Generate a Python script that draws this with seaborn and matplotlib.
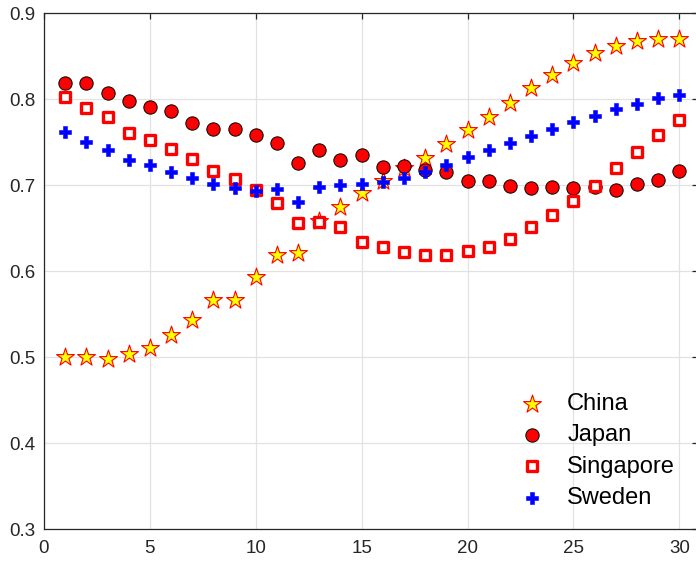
import numpy as np
import pandas as pd
import matplotlib
matplotlib.use("Agg")
import matplotlib.pyplot as plt
import seaborn as sns

x = list(range(1, 31))
china = [0.500, 0.500, 0.498, 0.504, 0.511, 0.526, 0.543, 0.567, 0.567, 0.593,
         0.619, 0.621, 0.659, 0.675, 0.691, 0.705, 0.720, 0.732, 0.748, 0.764,
         0.779, 0.796, 0.813, 0.828, 0.842, 0.854, 0.862, 0.868, 0.870, 0.870]
japan = [0.819, 0.819, 0.807, 0.798, 0.791, 0.786, 0.773, 0.766, 0.766, 0.759,
         0.749, 0.726, 0.741, 0.729, 0.735, 0.721, 0.722, 0.718, 0.716, 0.705,
         0.705, 0.699, 0.697, 0.698, 0.697, 0.698, 0.694, 0.701, 0.706, 0.717]
singapore = [0.803, 0.790, 0.779, 0.761, 0.753, 0.742, 0.731, 0.717, 0.707, 0.694,
             0.679, 0.656, 0.657, 0.652, 0.634, 0.628, 0.623, 0.619, 0.619, 0.624,
             0.628, 0.638, 0.651, 0.665, 0.682, 0.699, 0.720, 0.739, 0.758, 0.776]
sweden = [0.762, 0.750, 0.741, 0.729, 0.724, 0.716, 0.709, 0.701, 0.697, 0.693,
          0.696, 0.680, 0.698, 0.700, 0.701, 0.704, 0.709, 0.716, 0.724, 0.733,
          0.741, 0.749, 0.757, 0.765, 0.774, 0.781, 0.789, 0.795, 0.801, 0.805]
labels = ["China", "Japan", "Singapore", "Sweden"]
xticks = [0, 5, 10, 15, 20, 25, 30]
yticks = [0.3, 0.4, 0.5, 0.6, 0.7, 0.8, 0.9]

sns.set_style("white")
plt.rcParams['font.family'] = ['Liberation Sans', 'DejaVu Sans']

fig = plt.figure(figsize=(6.96, 5.61), dpi=100)
ax = fig.add_axes([0.0632, 0.0565, 0.9402, 0.9198])

styles = [
    dict(marker="*", s=13.5**2, color="#ffff00", edgecolor="#ff0000", linewidth=0.8),
    dict(marker="o", s=9.6**2, color="#ff0000", edgecolor="#000000", linewidth=0.7),
    dict(marker="s", s=7.0**2, color="#ffffff", edgecolor="#ff0000", linewidth=2.4),
    dict(marker="P", s=8.8**2, color="#0000ff", edgecolor="#0000ff", linewidth=0.4),
]
for series, lab, st in zip([china, japan, singapore, sweden], labels, styles):
    df = pd.DataFrame({"x": x, "y": series})
    sns.scatterplot(data=df, x="x", y="y", ax=ax, label=lab, zorder=3, **st)

ax.set_xlim(0, 30.9)
ax.set_ylim(0.3, 0.9)
ax.set_xticks(xticks)
ax.set_yticks(yticks)
ax.set_xticklabels([str(t) for t in xticks])
ax.set_yticklabels([f"{t:.1f}" for t in yticks])
ax.set_xlabel("")
ax.set_ylabel("")
ax.grid(True, color="#e2e2e2", linewidth=0.9)
ax.set_axisbelow(True)
for sp in ax.spines.values():
    sp.set_color("#262626")
    sp.set_linewidth(0.9)
    sp.set_visible(True)
ax.tick_params(axis="both", direction="in", length=4, width=0.9, color="#262626",
               labelsize=13.5, labelcolor="#262626", top=True, right=True)
ax.tick_params(axis="y", pad=6)
ax.tick_params(axis="x", pad=8)

leg = ax.legend(loc="upper left", bbox_to_anchor=(0.747, 0.30), bbox_transform=fig.transFigure,
                frameon=False, fontsize=17, handlelength=1.0, handletextpad=1.0,
                labelspacing=0.4, borderpad=0, borderaxespad=0)
for t in leg.get_texts():
    t.set_color("#000000")

fig.savefig("out.png", dpi=100)
